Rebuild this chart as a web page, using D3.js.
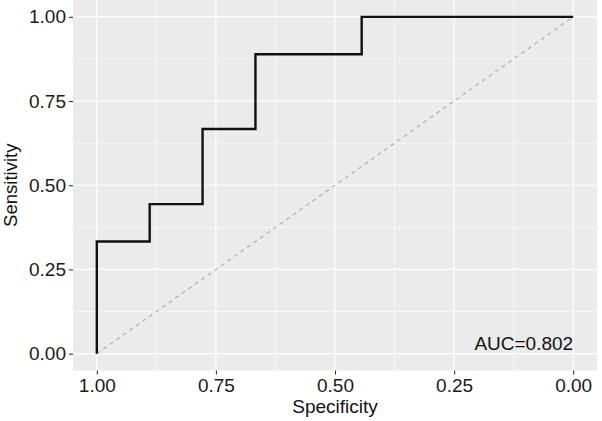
<!DOCTYPE html>
<html>
<head>
<meta charset="utf-8">
<script src="https://cdn.jsdelivr.net/npm/d3@7"></script>
<style>
body { margin: 0; background: #fff; }
text { font-family: "Liberation Sans", Arial, sans-serif; }
</style>
</head>
<body>
<div id="chart"></div>
<script>
var canvasWidth = 602;
var canvasHeight = 421;

// ROC step curve (specificity, sensitivity)
var specificity = [1, 1, 0.889, 0.889, 0.778, 0.778, 0.667, 0.667, 0.444, 0.444, 0];
var sensitivity = [0, 0.333, 0.333, 0.444, 0.444, 0.667, 0.667, 0.889, 0.889, 1, 1];
var refSpec = [1, 0];
var refSens = [0, 1];
var tickValues = [1, 0.75, 0.5, 0.25, 0];
var minorValues = [0.875, 0.625, 0.375, 0.125];
var aucLabel = "AUC=0.802";

var panel = {left: 73, right: 597, top: 0, bottom: 370.5};

var svg = d3.select("#chart")
    .append("svg")
    .attr("width", canvasWidth)
    .attr("height", canvasHeight);

// ggplot style 5% expansion
var x = d3.scaleLinear()
    .domain([1.05, -0.05])
    .range([panel.left, panel.right]);
var y = d3.scaleLinear()
    .domain([-0.05, 1.05])
    .range([panel.bottom, panel.top]);

svg.append("rect")
    .attr("x", panel.left)
    .attr("y", panel.top)
    .attr("width", panel.right - panel.left)
    .attr("height", panel.bottom - panel.top)
    .attr("fill", "#ebebeb");

var grid = svg.append("g");
grid.selectAll(".minx")
    .data(minorValues)
    .join("line")
    .attr("x1", d => x(d)).attr("x2", d => x(d))
    .attr("y1", panel.top).attr("y2", panel.bottom)
    .attr("stroke", "#fff").attr("stroke-width", 0.6);
grid.selectAll(".miny")
    .data(minorValues)
    .join("line")
    .attr("y1", d => y(d)).attr("y2", d => y(d))
    .attr("x1", panel.left).attr("x2", panel.right)
    .attr("stroke", "#fff").attr("stroke-width", 0.6);

var xAxis = svg.append("g")
    .attr("transform", "translate(0," + panel.bottom + ")")
    .call(d3.axisBottom(x).tickValues(tickValues).tickFormat(d3.format(".2f")).tickSizeOuter(0).tickSize(4).tickPadding(4));
var yAxis = svg.append("g")
    .attr("transform", "translate(" + panel.left + ",0)")
    .call(d3.axisLeft(y).tickValues(tickValues).tickFormat(d3.format(".2f")).tickSizeOuter(0).tickSize(4).tickPadding(3));

[xAxis, yAxis].forEach(function(a) {
    a.select(".domain").remove();
    a.selectAll(".tick line").attr("stroke", "#333").attr("stroke-width", 1.1);
    a.selectAll(".tick text")
        .attr("fill", "#1a1a1a")
        .style("font-size", "19px")
        .style("font-family", "'Liberation Sans', Arial, sans-serif");
});

// major gridlines
grid.selectAll(".majx")
    .data(tickValues)
    .join("line")
    .attr("x1", d => x(d)).attr("x2", d => x(d))
    .attr("y1", panel.top).attr("y2", panel.bottom)
    .attr("stroke", "#fff").attr("stroke-width", 1.2);
grid.selectAll(".majy")
    .data(tickValues)
    .join("line")
    .attr("y1", d => y(d)).attr("y2", d => y(d))
    .attr("x1", panel.left).attr("x2", panel.right)
    .attr("stroke", "#fff").attr("stroke-width", 1.2);

var line = d3.line()
    .x(d => x(d[0]))
    .y(d => y(d[1]));

svg.append("path")
    .datum(d3.zip(refSpec, refSens))
    .attr("d", line)
    .attr("fill", "none")
    .attr("stroke", "#aaaaaa")
    .attr("stroke-width", 1.1)
    .attr("stroke-dasharray", "4,4");

svg.append("path")
    .datum(d3.zip(specificity, sensitivity))
    .attr("d", line)
    .attr("fill", "none")
    .attr("stroke", "#111")
    .attr("stroke-width", 2.4)
    .attr("stroke-linejoin", "miter");

svg.append("text")
    .attr("x", x(0))
    .attr("y", y(0.011))
    .attr("text-anchor", "end")
    .attr("fill", "#111")
    .style("font-size", "19px")
    .text(aucLabel);

svg.append("text")
    .attr("x", (panel.left + panel.right) / 2)
    .attr("y", 413)
    .attr("text-anchor", "middle")
    .attr("fill", "#111")
    .style("font-size", "19px")
    .text("Specificity");

svg.append("text")
    .attr("transform", "translate(17," + (panel.top + panel.bottom) / 2 + ") rotate(-90)")
    .attr("text-anchor", "middle")
    .attr("fill", "#111")
    .style("font-size", "18.5px")
    .text("Sensitivity");
</script>
</body>
</html>
